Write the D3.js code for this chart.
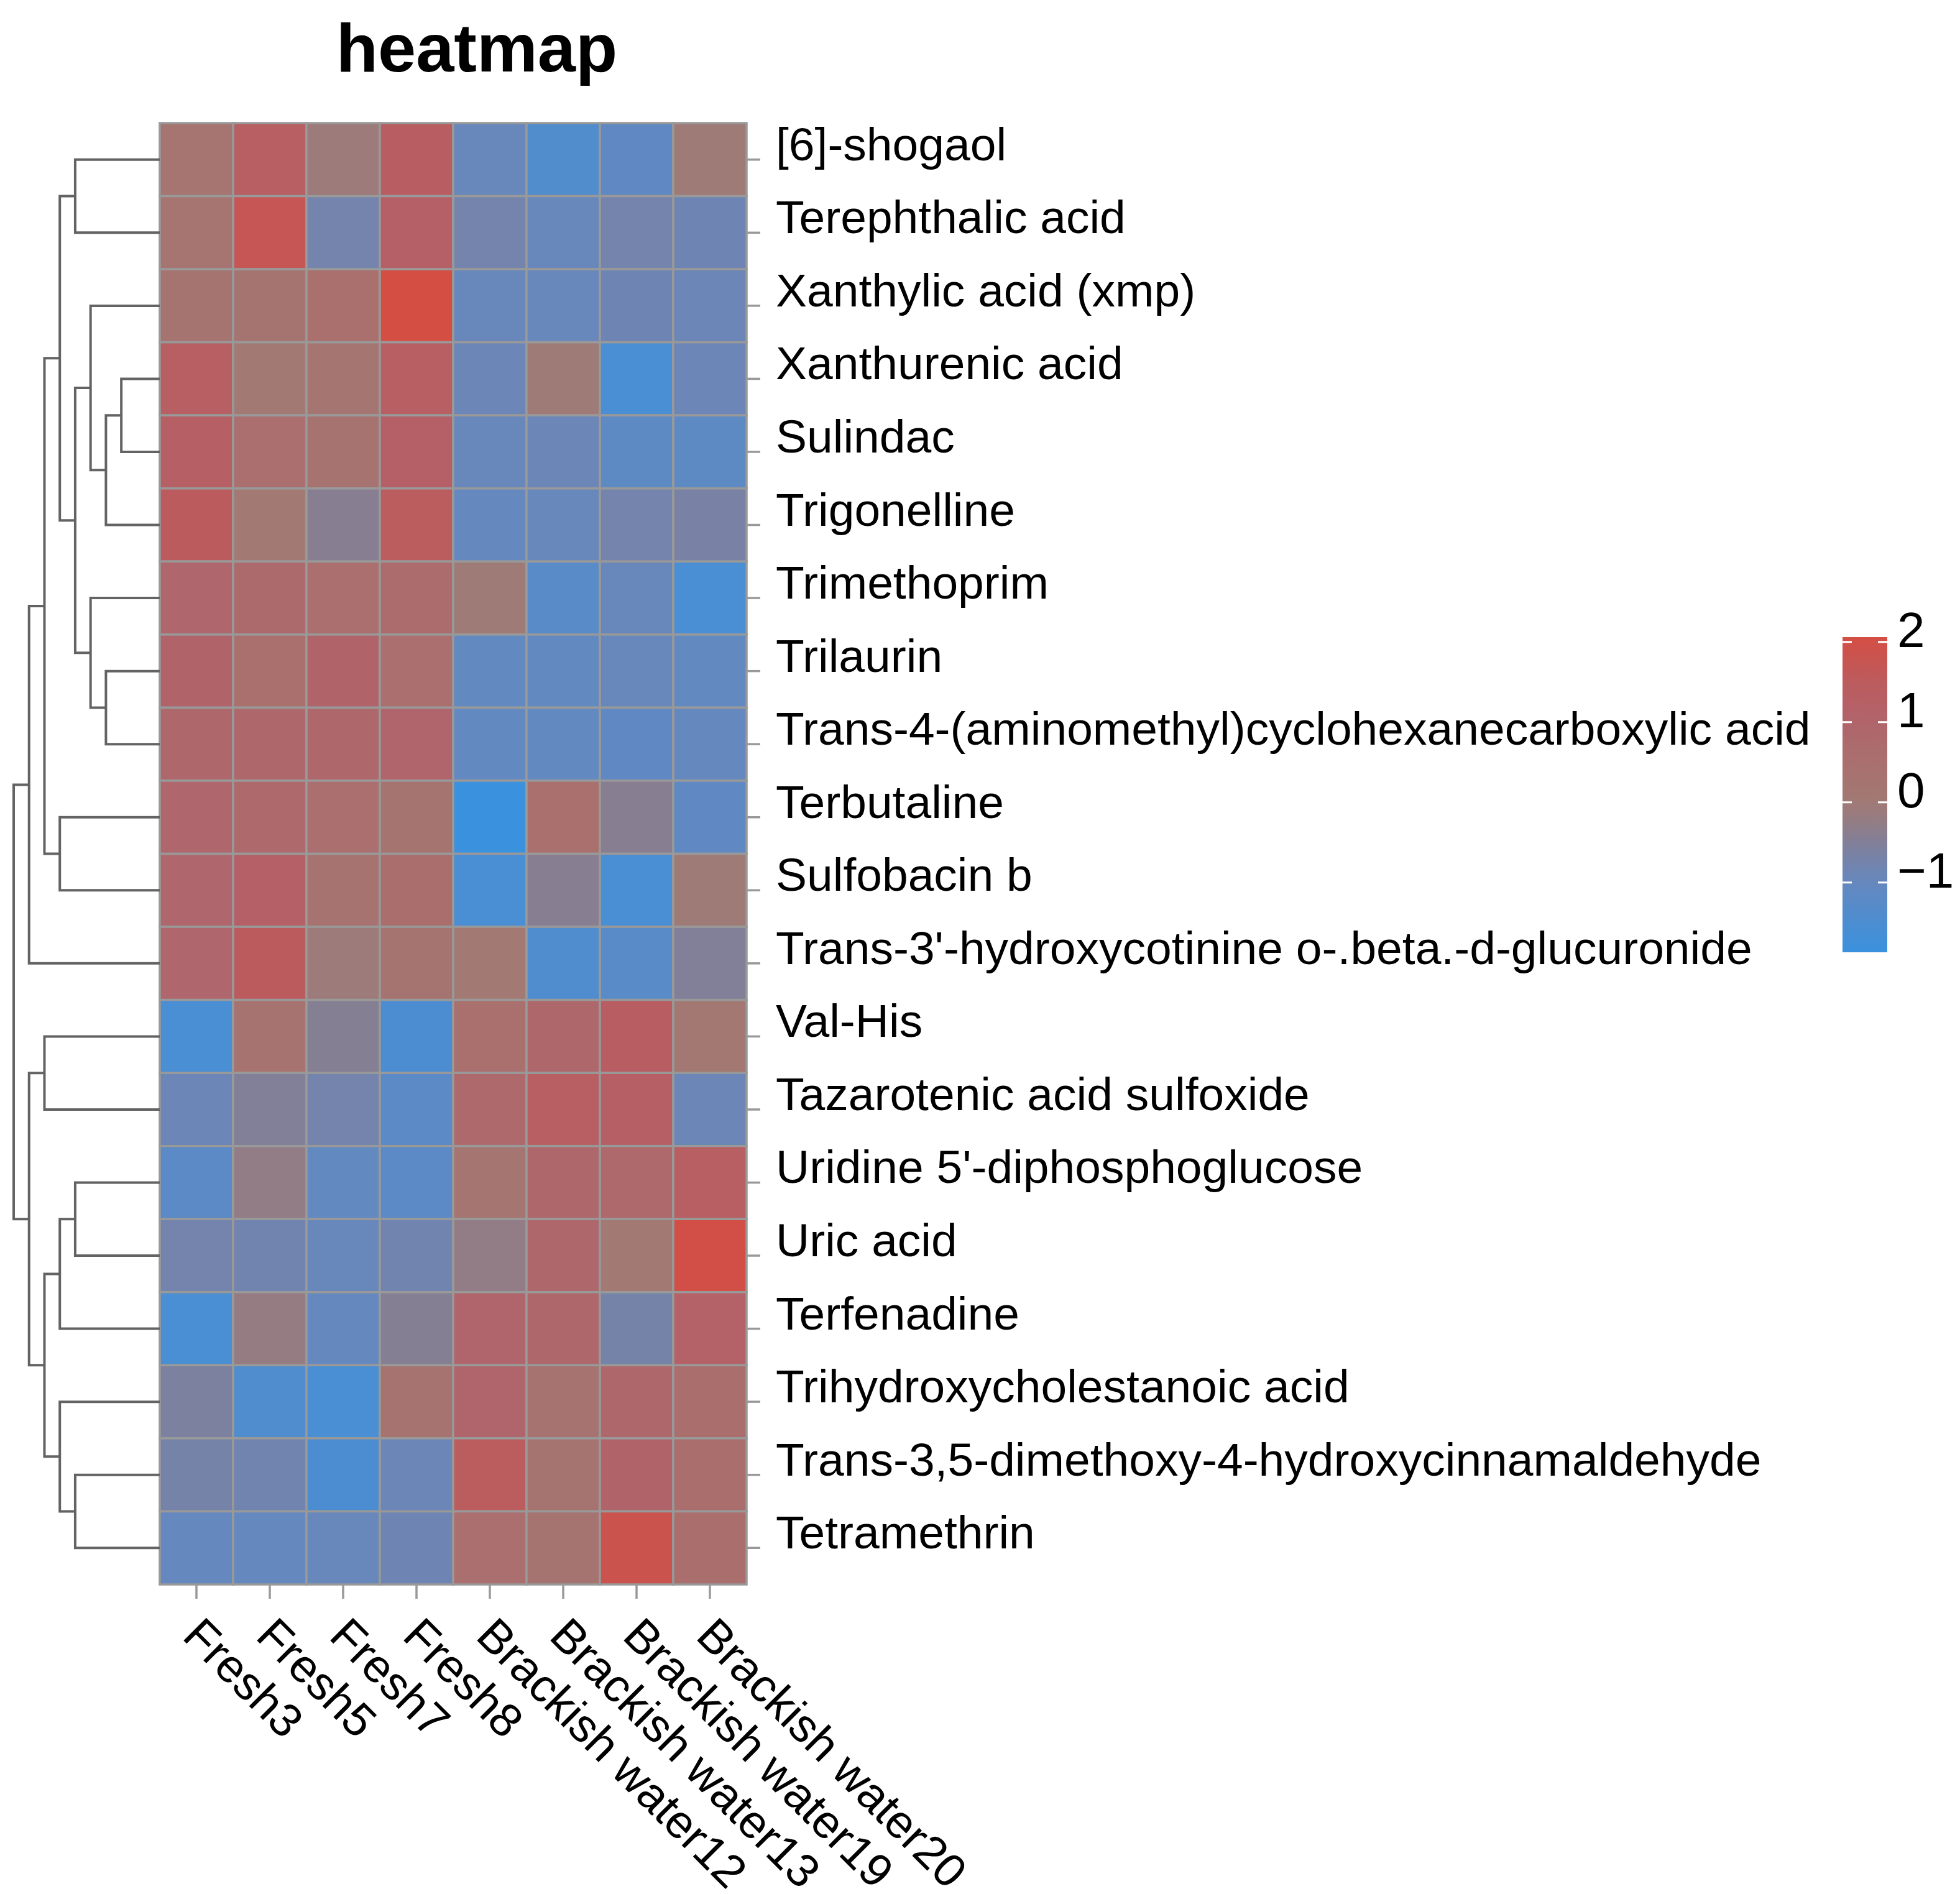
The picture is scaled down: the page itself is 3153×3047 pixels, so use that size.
<!DOCTYPE html>
<html>
<head>
<meta charset="utf-8">
<script src="https://d3js.org/d3.v7.min.js"></script>
<style>
  body { margin: 0; background: #fff; }
  text { font-family: "Liberation Sans", Arial, Helvetica, sans-serif; fill: #000; }
</style>
</head>
<body>
<div id="chart"></div>
<script>
// row / column labels (order as displayed, after clustering)
var rowNames = [
  "[6]-shogaol",
  "Terephthalic acid",
  "Xanthylic acid (xmp)",
  "Xanthurenic acid",
  "Sulindac",
  "Trigonelline",
  "Trimethoprim",
  "Trilaurin",
  "Trans-4-(aminomethyl)cyclohexanecarboxylic acid",
  "Terbutaline",
  "Sulfobacin b",
  "Trans-3'-hydroxycotinine o-.beta.-d-glucuronide",
  "Val-His",
  "Tazarotenic acid sulfoxide",
  "Uridine 5'-diphosphoglucose",
  "Uric acid",
  "Terfenadine",
  "Trihydroxycholestanoic acid",
  "Trans-3,5-dimethoxy-4-hydroxycinnamaldehyde",
  "Tetramethrin"
]

var colNames = ["Fresh3", "Fresh5", "Fresh7", "Fresh8",
  "Brackish water12", "Brackish water13", "Brackish water19", "Brackish water20"]

// scaled values, one row per metabolite
var values = [
  [ 0.25,  1.30, -0.10,  1.35, -0.95, -1.40, -1.10, -0.05],
  [ 0.25,  1.70, -0.75,  1.20, -0.75, -0.95, -0.75, -0.85],
  [ 0.30,  0.30,  0.50,  2.06, -0.95, -0.95, -0.85, -0.90],
  [ 1.30,  0.05,  0.20,  1.30, -0.90, -0.05, -1.55, -0.90],
  [ 1.25,  0.55,  0.35,  1.20, -0.95, -0.90, -1.15, -1.15],
  [ 1.50,  0.00, -0.40,  1.45, -1.00, -0.95, -0.75, -0.65],
  [ 0.90,  0.75,  0.55,  0.70, -0.05, -1.25, -0.95, -1.55],
  [ 1.05,  0.50,  1.05,  0.55, -1.05, -1.05, -0.95, -1.05],
  [ 0.85,  0.85,  0.85,  0.95, -1.05, -1.05, -1.10, -1.00],
  [ 0.90,  0.80,  0.55,  0.30, -1.87,  0.50, -0.40, -1.10],
  [ 0.90,  1.20,  0.35,  0.60, -1.55, -0.40, -1.55, -0.05],
  [ 0.90,  1.50, -0.10,  0.30,  0.00, -1.45, -1.25, -0.50],
  [-1.55,  0.35, -0.45, -1.50,  0.50,  0.85,  1.35,  0.10],
  [-0.90, -0.50, -0.75, -1.20,  0.80,  1.30,  1.25, -0.90],
  [-1.20, -0.25, -1.05, -1.20,  0.20,  0.85,  0.80,  1.30],
  [-0.75, -0.80, -0.95, -0.80, -0.25,  0.85,  0.05,  2.00],
  [-1.55, -0.20, -1.00, -0.45,  0.95,  0.85, -0.70,  1.15],
  [-0.60, -1.45, -1.55,  0.35,  1.00,  0.35,  0.85,  0.60],
  [-0.70, -0.80, -1.50, -0.90,  1.45,  0.30,  1.05,  0.60],
  [-1.00, -1.00, -0.95, -0.85,  0.55,  0.30,  1.85,  0.60]
]

// row dendrogram, hclust style: negative = leaf (1-based row), positive = earlier merge
var mergeLeft  = [-1, -4,  2, -3, -8, -7, 4, 1, -10,  8,  10, -13, -15, 13, -19, -18, 14, 12, 11]
var mergeRight = [-2, -5, -6,  3, -9,  5, 6, 7, -11,  9, -12, -14, -16, -17, -20, 15, 16, 17, 18]
var mergeHeight = [5.5, 2.5, 3.5, 4.5, 3.5, 4.5, 5.5, 6.5, 6.5, 7.5, 8.5, 7.5, 5.5, 6.5, 5.5, 6.5, 7.5, 8.5, 9.5]

var legendTicks = [-1, 0, 1, 2]

// palette stops
var paletteValues = [-1.87, -1.0, -0.5, 0, 0.5, 1.0, 1.5, 2.06]
var paletteColors = ["#3a91de", "#6588bf", "#827f98", "#a27a73", "#a9706e", "#b0646b", "#bc5b5e", "#d44e44"]

var width = 3153
var height = 3047

var svg = d3.select("#chart").append("svg")
  .attr("width", width)
  .attr("height", height)

svg.append("rect").attr("width", width).attr("height", height).attr("fill", "#fff")

var x = d3.scaleBand().domain(colNames).range([257, 1201])
var y = d3.scaleBand().domain(rowNames).range([198, 2549])
var color = d3.scaleLinear().domain(paletteValues).range(paletteColors).clamp(true)

// title
svg.append("text")
  .attr("x", 767).attr("y", 115)
  .attr("text-anchor", "middle")
  .style("font-size", "110px").style("font-weight", "bold")
  .text("heatmap")

// cells
var cells = []
values.forEach(function (row, i) {
  row.forEach(function (v, j) {
    cells.push({ row: rowNames[i], col: colNames[j], value: v })
  })
})

svg.append("g").selectAll("rect")
  .data(cells)
  .enter().append("rect")
  .attr("x", function (d) { return x(d.col) })
  .attr("y", function (d) { return y(d.row) })
  .attr("width", x.bandwidth())
  .attr("height", y.bandwidth())
  .attr("fill", function (d) { return color(d.value) })
  .attr("stroke", "#999999")
  .attr("stroke-width", 3.5)

// row ticks and labels
var rowLab = svg.append("g")
rowLab.selectAll("line")
  .data(rowNames)
  .enter().append("line")
  .attr("x1", 1201).attr("x2", 1223)
  .attr("y1", function (d) { return y(d) + y.bandwidth() / 2 })
  .attr("y2", function (d) { return y(d) + y.bandwidth() / 2 })
  .attr("stroke", "#999999").attr("stroke-width", 3.5)
rowLab.selectAll("text")
  .data(rowNames)
  .enter().append("text")
  .attr("x", 1248)
  .attr("y", function (d) { return y(d) + y.bandwidth() / 2 + 1 })
  .style("font-size", "75px")
  .text(function (d) { return d })

// column ticks and labels
var colLab = svg.append("g")
colLab.selectAll("line")
  .data(colNames)
  .enter().append("line")
  .attr("x1", function (d) { return x(d) + x.bandwidth() / 2 })
  .attr("x2", function (d) { return x(d) + x.bandwidth() / 2 })
  .attr("y1", 2549).attr("y2", 2572)
  .attr("stroke", "#999999").attr("stroke-width", 3.5)
colLab.selectAll("text")
  .data(colNames)
  .enter().append("text")
  .attr("transform", function (d) {
    return "translate(" + (x(d) + x.bandwidth() / 2 - 25) + ",2635) rotate(45)"
  })
  .style("font-size", "75px")
  .text(function (d) { return d })

// dendrogram
var hx = d3.scaleLinear().domain([0, 9.5]).range([257, 22])
var nodes = []   // {x, y} per merge
function childPos(c) {
  if (c < 0) {
    return { x: hx(0), y: y(rowNames[-c - 1]) + y.bandwidth() / 2 }
  }
  return nodes[c - 1]
}
var segs = []
for (var k = 0; k < mergeLeft.length; k++) {
  var a = childPos(mergeLeft[k])
  var b = childPos(mergeRight[k])
  var mx = hx(mergeHeight[k])
  segs.push([[a.x, a.y], [mx, a.y], [mx, b.y], [b.x, b.y]])
  nodes.push({ x: mx, y: (a.y + b.y) / 2 })
}
svg.append("g").selectAll("path")
  .data(segs)
  .enter().append("path")
  .attr("d", d3.line())
  .attr("fill", "none")
  .attr("stroke", "#636363")
  .attr("stroke-width", 4)

// colour legend
var extent = d3.extent(values.flat())
var ly = d3.scaleLinear().domain(extent).range([1532, 1025])
var defs = svg.append("defs")
var grad = defs.append("linearGradient")
  .attr("id", "legendGrad")
  .attr("x1", "0").attr("y1", "1").attr("x2", "0").attr("y2", "0")
d3.range(0, 1.0001, 0.05).forEach(function (t) {
  var v = extent[0] + t * (extent[1] - extent[0])
  grad.append("stop").attr("offset", t).attr("stop-color", color(v))
})
svg.append("rect")
  .attr("x", 2964).attr("y", ly(extent[1]))
  .attr("width", 72).attr("height", ly(extent[0]) - ly(extent[1]))
  .attr("fill", "url(#legendGrad)")

var leg = svg.append("g")
leg.selectAll("line.l")
  .data(legendTicks)
  .enter().append("line")
  .attr("class", "l")
  .attr("x1", 2964).attr("x2", 2979)
  .attr("y1", function (d) { return ly(d) }).attr("y2", function (d) { return ly(d) })
  .attr("stroke", "#fff").attr("stroke-width", 3)
leg.selectAll("line.r")
  .data(legendTicks)
  .enter().append("line")
  .attr("class", "r")
  .attr("x1", 3021).attr("x2", 3036)
  .attr("y1", function (d) { return ly(d) }).attr("y2", function (d) { return ly(d) })
  .attr("stroke", "#fff").attr("stroke-width", 3)
leg.selectAll("text")
  .data(legendTicks)
  .enter().append("text")
  .attr("x", 3052)
  .attr("y", function (d) { return ly(d) + 8 })
  .style("font-size", "80px")
  .text(function (d) { return d < 0 ? "\u2212" + Math.abs(d) : d })
</script>
</body>
</html>
